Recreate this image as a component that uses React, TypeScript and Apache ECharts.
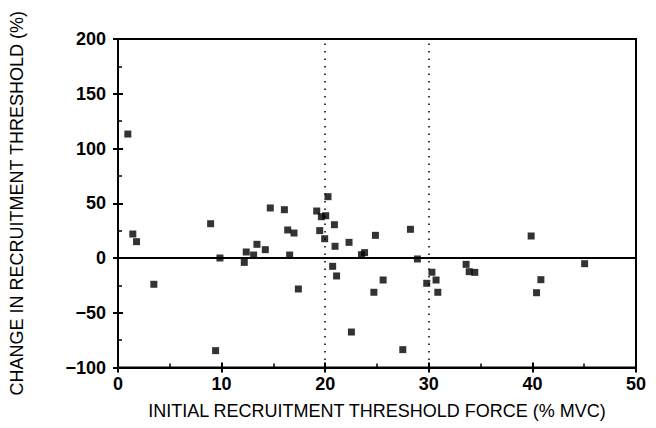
import React, { useEffect, useRef } from "react";
import * as echarts from "echarts";

const xValues = [0.95, 1.43, 1.79, 3.46, 8.94, 9.42, 9.84, 12.19, 12.38, 13.09, 13.41, 14.22, 14.7, 16.06, 16.38, 16.57, 16.99, 17.41, 19.18, 19.47, 19.63, 20.05, 19.95, 20.27, 20.89, 20.95, 20.72, 21.1, 22.3, 22.53, 23.5, 23.8, 24.85, 24.7, 25.59, 27.49, 28.23, 28.9, 29.8, 30.3, 30.7, 30.87, 33.6, 33.9, 34.44, 39.88, 40.82, 40.4, 45.04];
const yValues = [113.2, 21.9, 14.9, -24, 31.3, -84.6, 0, -4, 5.5, 2.7, 12.5, 7.6, 45.7, 44.1, 25.6, 2.7, 22.8, -28.3, 42.9, 25, 37.7, 38.6, 17.6, 56, 30.4, 10.7, -7.6, -16.4, 14.3, -67.6, 3, 4.9, 20.7, -31.3, -20.1, -83.7, 26.2, -0.9, -23.1, -13, -20.1, -31.3, -5.8, -12.5, -13.1, 20.1, -19.8, -31.7, -5.2];
const dottedLinesX = [20, 30];
const xTicks = { min: 0, max: 50, interval: 10 };
const yTicks = { min: -100, max: 200, interval: 50 };
const xTitle = "INITIAL RECRUITMENT THRESHOLD FORCE (% MVC)";
const yTitle = "CHANGE IN RECRUITMENT THRESHOLD (%)";

export default function App() {
  const ref = useRef<HTMLDivElement>(null);
  useEffect(() => {
    if (!ref.current) return;
    const chart = echarts.init(ref.current, null, { renderer: "svg" });
    const font = "'Liberation Sans', Arial, sans-serif";
    const lineStyle = { color: "#000", width: 2 };
    const baseX = {
      type: "value" as const,
      min: xTicks.min,
      max: xTicks.max,
      interval: xTicks.interval,
      position: "bottom" as const,
      splitLine: { show: false },
      axisLine: { show: true, onZero: false, lineStyle },
    };
    const baseY = {
      type: "value" as const,
      min: yTicks.min,
      max: yTicks.max,
      interval: yTicks.interval,
      position: "left" as const,
      splitLine: { show: false },
      axisLine: { show: true, onZero: false, lineStyle },
    };
    const labelStyle = { fontFamily: font, fontSize: 18, fontWeight: "bold" as const, color: "#000" };
    chart.setOption({
      animation: false,
      backgroundColor: "#fff",
      grid: {
        left: 118,
        right: 20,
        top: 39,
        bottom: 60.5,
        show: true,
        borderColor: "#000",
        borderWidth: 2,
      },
      xAxis: [
        {
          ...baseX,
          name: xTitle,
          nameLocation: "middle",
          nameGap: 34,
          nameTextStyle: { fontFamily: font, fontSize: 18, color: "#000" },
          axisLabel: { ...labelStyle, margin: 7 },
          axisTick: { show: true, inside: false, length: 5, lineStyle },
          minorTick: { show: false },
        },
        {
          ...baseX,
          axisLabel: { show: false },
          axisTick: { show: true, inside: true, length: 5, lineStyle },
          minorTick: { show: true, splitNumber: 2, length: 4, lineStyle: { color: "#000", width: 1.5 } },
        },
      ],
      yAxis: [
        {
          ...baseY,
          name: yTitle,
          nameLocation: "middle",
          nameGap: 92,
          nameTextStyle: { fontFamily: font, fontSize: 18, color: "#000" },
          axisLabel: {
            ...labelStyle,
            margin: 12,
            formatter: (v: number) => (v < 0 ? "\u2212" + Math.abs(v) : String(v)),
          },
          axisTick: { show: true, inside: false, length: 5, lineStyle },
          minorTick: { show: false },
        },
        {
          ...baseY,
          axisLabel: { show: false },
          axisTick: { show: true, inside: true, length: 5, lineStyle },
          minorTick: { show: true, splitNumber: 2, length: 4, lineStyle: { color: "#000", width: 1.5 } },
        },
      ],
      series: [
        {
          type: "scatter",
          xAxisIndex: 0,
          yAxisIndex: 0,
          symbol: "rect",
          symbolSize: 7,
          itemStyle: { color: "#000" },
          data: xValues.map((x, i) => [x, yValues[i]]),
          markLine: {
            silent: true,
            symbol: "none",
            label: { show: false },
            data: [
              { yAxis: 0, lineStyle: { color: "#000", width: 2, type: "solid" } },
              ...dottedLinesX.map((v) => ({
                xAxis: v,
                lineStyle: { color: "#000", width: 1.5, type: [1.5, 6] as any },
              })),
            ],
          },
        },
      ],
    });
    return () => chart.dispose();
  }, []);
  return <div ref={ref} style={{ width: 656, height: 428, position: "absolute", left: 0, top: 0 }} />;
}
